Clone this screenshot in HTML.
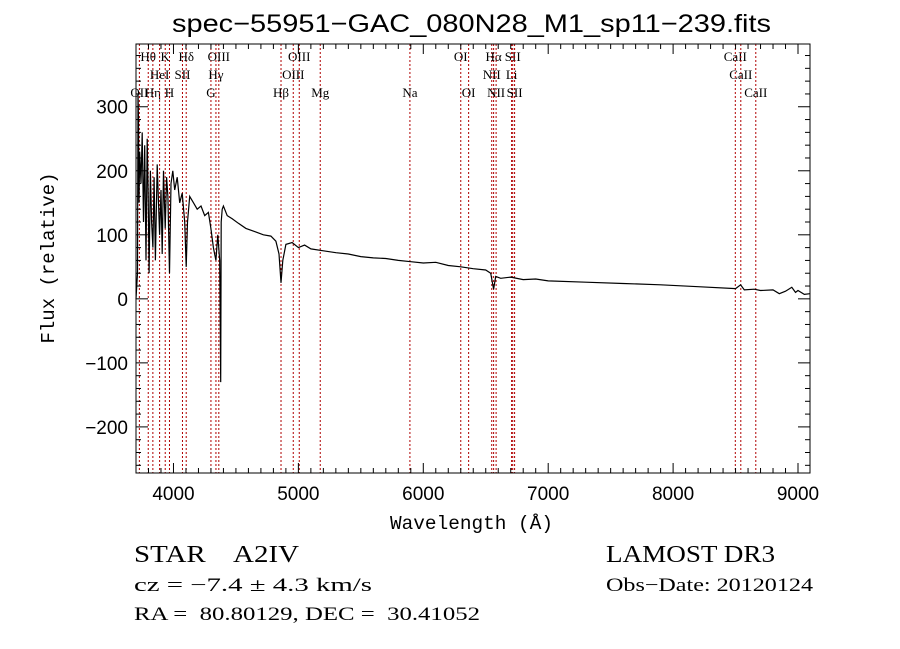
<!DOCTYPE html>
<html><head><meta charset="utf-8"><style>
body{margin:0;background:#fff;}
svg{display:block;font-family:"Liberation Sans",sans-serif;}
.lbl{font-family:"Liberation Serif",serif;font-size:13px;}
</style></head><body>
<svg id="chart" width="900" height="649">
<rect width="900" height="649" fill="#fff"/>
<text x="172" y="32" font-size="25" textLength="599" lengthAdjust="spacingAndGlyphs">spec−55951−GAC_080N28_M1_sp11−239.fits</text>
<g id="lines"></g>
<g id="axes"></g>
<path id="spec" fill="none" stroke="#000" stroke-width="1.2"/>
<text x="390" y="529" font-size="19" textLength="163" lengthAdjust="spacingAndGlyphs" font-family="Liberation Mono,monospace">Wavelength (Å)</text>
<text transform="translate(54,258) rotate(-90)" text-anchor="middle" font-size="19" font-family="Liberation Mono,monospace">Flux (relative)</text>
<text x="134" y="562" font-size="24" textLength="165" lengthAdjust="spacingAndGlyphs" font-family="Liberation Serif,serif" xml:space="preserve">STAR    A2IV</text>
<text x="606" y="562" font-size="24" textLength="169" lengthAdjust="spacingAndGlyphs" font-family="Liberation Serif,serif">LAMOST DR3</text>
<text x="134" y="591" font-size="19" textLength="238" lengthAdjust="spacingAndGlyphs" font-family="Liberation Serif,serif">cz = −7.4 ± 4.3 km/s</text>
<text x="606" y="591" font-size="19" textLength="207" lengthAdjust="spacingAndGlyphs" font-family="Liberation Serif,serif">Obs−Date: 20120124</text>
<text x="134" y="620" font-size="19" textLength="346" lengthAdjust="spacingAndGlyphs" font-family="Liberation Serif,serif" xml:space="preserve">RA =  80.80129, DEC =  30.41052</text>
</svg>
<script>
const xTicks=[4000,5000,6000,7000,8000,9000];
const yTicks=[-200,-100,0,100,200,300];
const lineWaves=[3727,3798,3835,3889,3934,3968,4072,4102,4300,4340,4363,4861,4959,5007,5175,5893,6300,6363,6548,6563,6583,6707,6716,6731,8498,8542,8662];
const lineNames=["OII","Hθ","Hη","HeI","K","H","SII","Hδ","G","Hγ","OIII","Hβ","OIII","OIII","Mg","Na","OI","OI","NII","Hα","NII","Li","SII","SII","CaII","CaII","CaII"];
const lineRows=[2,0,2,1,0,2,1,0,2,1,0,2,1,0,2,2,0,2,1,0,2,1,0,2,0,1,2];
const specWave=[3700,3712,3716,3720,3724,3730,3740,3750,3760,3770,3780,3790,3798,3805,3815,3825,3835,3845,3855,3870,3889,3900,3910,3920,3934,3945,3955,3968,3980,3995,4010,4030,4050,4070,4090,4102,4112,4130,4160,4190,4220,4250,4280,4300,4320,4340,4355,4370,4378,4382,4390,4400,4430,4470,4520,4580,4650,4720,4780,4820,4845,4861,4875,4900,4950,5000,5050,5100,5200,5300,5400,5500,5600,5700,5800,5900,6000,6100,6200,6300,6400,6500,6540,6563,6580,6620,6700,6800,6900,7000,7300,7600,7900,8200,8500,8540,8570,8650,8700,8800,8850,8900,8950,8980,9000,9050,9096];
const specFlux=[0,40,320,280,150,230,180,260,120,240,60,250,160,40,200,120,80,190,60,210,100,170,70,200,110,190,160,40,180,200,170,190,150,165,120,50,120,160,150,140,145,130,135,110,80,60,100,60,-130,120,140,145,130,125,118,110,105,100,98,90,70,25,60,85,88,80,84,78,75,72,70,66,64,63,60,58,56,57,52,50,47,45,40,15,35,32,34,30,31,28,26,24,22,19,16,22,14,15,13,14,8,12,18,10,13,7,8];
const X0=3700,X1=9096,Y0=-272,Y1=398,L=136,R=810,T=44,B=473;
const sx=w=>L+(w-X0)/(X1-X0)*(R-L);
const sy=v=>B-(v-Y0)/(Y1-Y0)*(B-T);
const NS="http://www.w3.org/2000/svg";
function mk(tag,attrs,parent){const e=document.createElementNS(NS,tag);for(const k in attrs)e.setAttribute(k,attrs[k]);parent.appendChild(e);return e;}
const ax=document.getElementById('axes');
const box=mk('rect',{x:L,y:T,width:R-L,height:B-T,fill:'none',stroke:'#000','stroke-width':1},ax);


for(let w=3800;w<=X1;w+=100){const x=sx(w);const big=w%1000===0;const len=big?10:5;
 mk('line',{x1:x,x2:x,y1:B,y2:B-len,stroke:'#000'},ax);mk('line',{x1:x,x2:x,y1:T,y2:T+len,stroke:'#000'},ax);}
xTicks.forEach(t=>{const e=mk('text',{x:sx(t),y:B+27,'text-anchor':'middle','font-size':19},ax);e.textContent=t;
 
 });
for(let v=-260;v<=Y1;v+=20){const y=sy(v);const big=v%100===0;const len=big?12:5;
 mk('line',{x1:L,x2:L+len,y1:y,y2:y,stroke:'#000'},ax);mk('line',{x1:R,x2:R-len,y1:y,y2:y,stroke:'#000'},ax);}
yTicks.forEach(t=>{const e=mk('text',{x:L-8,y:sy(t)+7,'text-anchor':'end','font-size':19},ax);e.textContent=String(t).replace('-','−');
 
 });
const lg=document.getElementById('lines');
lineWaves.forEach((w,i)=>{const x=sx(w);
 const l=mk('line',{x1:x,x2:x,y1:T,y2:B,stroke:'#b00000','stroke-width':1,'stroke-dasharray':'2,2'},lg);
 
 
 const t=mk('text',{x:x,y:61+lineRows[i]*18,'text-anchor':'middle',class:'lbl'},lg);t.textContent=lineNames[i];
 
 });
let d='';specWave.forEach((w,i)=>{d+=(i?'L':'M')+sx(w).toFixed(1)+','+sy(specFlux[i]).toFixed(1);});
document.getElementById('spec').setAttribute('d',d);
</script>
</body></html>
